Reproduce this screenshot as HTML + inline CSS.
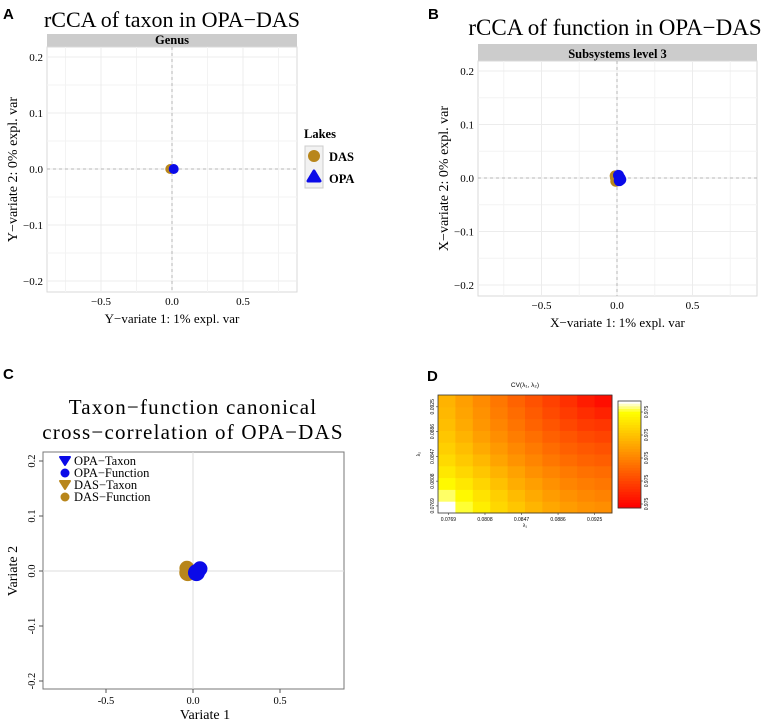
<!DOCTYPE html>
<html><head><meta charset="utf-8"><style>
body{margin:0;background:#fff;width:769px;height:723px;overflow:hidden}
svg{display:block;font-family:"Liberation Serif",serif}
.lbl{font-family:"Liberation Sans",sans-serif;font-weight:bold}
</style></head><body>
<svg id="fig" width="769" height="723" viewBox="0 0 769 723">
<text class="lbl" x="3" y="19" font-size="15">A</text>
<text class="lbl" x="428" y="19" font-size="15">B</text>
<text class="lbl" x="3" y="379" font-size="15">C</text>
<text class="lbl" x="427" y="381" font-size="15">D</text>
<g id="gA"></g>
<g id="gB"></g>
<g id="gC"></g>
<g id="gD"></g>
</svg>
<script>
// ---- data ----
const ticksXY = [-0.5, 0.0, 0.5];
const ticksY = [-0.2, -0.1, 0.0, 0.1, 0.2];
const aLakes = ["DAS", "OPA"];
const aX = [-0.012, 0.012];
const aY = [0.0, 0.0];
const bLakes = ["DAS", "DAS", "DAS", "OPA", "OPA", "OPA", "OPA"];
const bX = [-0.012, -0.008, -0.01, 0.01, 0.02, 0.015, 0.025];
const bY = [0.004, -0.006, 0.0, 0.005, 0.0, -0.005, -0.003];
const cSeries = ["DAS-Taxon", "DAS-Function", "OPA-Taxon", "OPA-Function"];
const cX = [-0.035, -0.03, 0.04, 0.02];
const cY = [0.005, -0.003, 0.004, -0.003];
const dXTicks = ["0.0769", "0.0808", "0.0847", "0.0886", "0.0925"];
const dYTicks = ["0.0769", "0.0808", "0.0847", "0.0886", "0.0925"];
const dCbTicks = ["0.975", "0.975", "0.975", "0.975", "0.975"];
// CV values (rows from bottom to top, columns left to right), relative 0..1
const dRow0 = [1.00, 0.92, 0.84, 0.76, 0.70, 0.64, 0.59, 0.55, 0.52, 0.50];
const dRow1 = [0.94, 0.88, 0.80, 0.73, 0.66, 0.60, 0.55, 0.51, 0.48, 0.46];
const dRow2 = [0.88, 0.82, 0.75, 0.68, 0.61, 0.56, 0.51, 0.47, 0.44, 0.42];
const dRow3 = [0.82, 0.76, 0.70, 0.63, 0.57, 0.51, 0.47, 0.43, 0.40, 0.38];
const dRow4 = [0.77, 0.71, 0.65, 0.58, 0.52, 0.47, 0.42, 0.38, 0.35, 0.33];
const dRow5 = [0.73, 0.67, 0.60, 0.54, 0.48, 0.43, 0.38, 0.34, 0.31, 0.29];
const dRow6 = [0.70, 0.63, 0.56, 0.50, 0.44, 0.39, 0.34, 0.30, 0.26, 0.24];
const dRow7 = [0.67, 0.60, 0.53, 0.47, 0.41, 0.35, 0.30, 0.25, 0.21, 0.19];
const dRow8 = [0.65, 0.58, 0.51, 0.44, 0.38, 0.32, 0.26, 0.21, 0.16, 0.12];
const dRow9 = [0.63, 0.56, 0.49, 0.42, 0.35, 0.29, 0.23, 0.17, 0.10, 0.05];
const dRows = [dRow0, dRow1, dRow2, dRow3, dRow4, dRow5, dRow6, dRow7, dRow8, dRow9];

const NS = "http://www.w3.org/2000/svg";
function mk(parent, tag, attrs, text) {
  const e = document.createElementNS(NS, tag);
  for (const k in attrs) e.setAttribute(k, attrs[k]);
  if (text !== undefined) e.textContent = text;
  parent.appendChild(e);
  return e;
}
const GOLD = "#b8861b", BLUE = "#0a0ae8";
function fmt(v) { return (v < 0 ? "\u2212" : "") + Math.abs(v).toFixed(1); }

function ggPanel(g, o) {
  const sx = v => o.cx + v * o.kx, sy = v => o.cy - v * o.ky;
  mk(g, "text", {x: o.titleX, y: o.titleY, "font-size": o.tfs, "text-anchor": "middle"}, o.title);
  const strip = mk(g, "rect", {x: o.x0, y: o.sy0, width: o.x1 - o.x0, height: o.y0 - o.sy0, fill: "#cccccc"});
  
  const st = mk(g, "text", {x: (o.x0 + o.x1) / 2, y: o.y0 - 3, "font-size": 12.5, "font-weight": "bold", "text-anchor": "middle"}, o.strip);
  
  const bg = mk(g, "rect", {x: o.x0, y: o.y0, width: o.x1 - o.x0, height: o.y1 - o.y0, fill: "#fff", stroke: "#d9d9d9", "stroke-width": 1});
  
  [-0.75, -0.25, 0.25, 0.75].forEach(v => mk(g, "line", {x1: sx(v), x2: sx(v), y1: o.y0, y2: o.y1, stroke: "#f3f3f3"}));
  [-0.15, -0.05, 0.05, 0.15].forEach(v => mk(g, "line", {y1: sy(v), y2: sy(v), x1: o.x0, x2: o.x1, stroke: "#f3f3f3"}));
  ticksXY.forEach(v => { mk(g, "line", {x1: sx(v), x2: sx(v), y1: o.y0, y2: o.y1, stroke: "#ececec"});
    const t = mk(g, "text", {x: sx(v), y: o.y1 + 13, "font-size": 11, "text-anchor": "middle"}, fmt(v));
     });
  ticksY.forEach(v => { mk(g, "line", {y1: sy(v), y2: sy(v), x1: o.x0, x2: o.x1, stroke: "#ececec"});
    const t = mk(g, "text", {x: o.x0 - 4, y: sy(v) + 4, "font-size": 11, "text-anchor": "end"}, fmt(v));
     });
  mk(g, "line", {x1: sx(0), x2: sx(0), y1: o.y0, y2: o.y1, stroke: "#b5b5b5", "stroke-dasharray": "3,3"});
  mk(g, "line", {y1: sy(0), y2: sy(0), x1: o.x0, x2: o.x1, stroke: "#b5b5b5", "stroke-dasharray": "3,3"});
  const xt = mk(g, "text", {x: (o.x0 + o.x1) / 2, y: o.y1 + 31, "font-size": 13, "text-anchor": "middle"}, o.xTitle);
  
  const yt = mk(g, "text", {x: 0, y: 0, "font-size": 14, "text-anchor": "middle", transform: `translate(${o.x0 - 30},${(o.y0 + o.y1) / 2}) rotate(-90)`}, o.yTitle);
  
  o.lakes.forEach((l, i) => {
    const c = mk(g, "circle", {cx: sx(o.xs[i]), cy: sy(o.ys[i]), r: o.r, fill: l === "DAS" ? GOLD : BLUE});
    
    
  });
}
ggPanel(document.getElementById("gA"), {title: "rCCA of taxon in OPA\u2212DAS", titleX: 172, titleY: 27, tfs: 22,
  strip: "Genus", x0: 47, x1: 297, sy0: 34, y0: 47, y1: 292, cx: 172, cy: 169, kx: 142, ky: 560,
  xTitle: "Y\u2212variate 1: 1% expl. var", yTitle: "Y\u2212variate 2: 0% expl. var", lakes: aLakes, xs: aX, ys: aY, r: 5});
ggPanel(document.getElementById("gB"), {title: "rCCA of function in OPA\u2212DAS", titleX: 615, titleY: 35, tfs: 23,
  strip: "Subsystems level 3", x0: 478, x1: 757, sy0: 44, y0: 61, y1: 296, cx: 617, cy: 178, kx: 151, ky: 535,
  xTitle: "X\u2212variate 1: 1% expl. var", yTitle: "X\u2212variate 2: 0% expl. var", lakes: bLakes, xs: bX, ys: bY, r: 5.5});

(function () {
  const g = document.getElementById("gA");
  mk(g, "text", {x: 304, y: 138, "font-size": 12.5, "font-weight": "bold"}, "Lakes");
  mk(g, "rect", {x: 305, y: 146, width: 18, height: 42, fill: "#f2f2f2", stroke: "#ccc"});
  const e1 = mk(g, "circle", {cx: 314, cy: 156, r: 6, fill: GOLD}); 
  const e2 = mk(g, "path", {d: "M314,171 L320,181 L308,181 Z", fill: BLUE, stroke: BLUE, "stroke-width": 3, "stroke-linejoin": "round"}); 
  mk(g, "text", {x: 329, y: 161, "font-size": 12.5, "font-weight": "bold"}, "DAS");
  mk(g, "text", {x: 329, y: 183, "font-size": 12.5, "font-weight": "bold"}, "OPA");
})();

(function () {
  const g = document.getElementById("gC");
  const x0 = 43, x1 = 344, y0 = 452, y1 = 689, cx = 193, cy = 571, kx = 174, ky = 550;
  const sx = v => cx + v * kx, sy = v => cy - v * ky;
  mk(g, "text", {x: 193, y: 414, "font-size": 21, "text-anchor": "middle", "letter-spacing": "1.2"}, "Taxon\u2212function canonical");
  mk(g, "text", {x: 193, y: 439, "font-size": 21, "text-anchor": "middle", "letter-spacing": "1.2"}, "cross\u2212correlation of OPA\u2212DAS");
  mk(g, "rect", {x: x0, y: y0, width: x1 - x0, height: y1 - y0, fill: "#fff", stroke: "#777"});
  mk(g, "line", {x1: sx(0), x2: sx(0), y1: y0, y2: y1, stroke: "#ddd"});
  mk(g, "line", {y1: sy(0), y2: sy(0), x1: x0, x2: x1, stroke: "#ddd"});
  ticksXY.forEach(v => { mk(g, "line", {x1: sx(v), x2: sx(v), y1: y1, y2: y1 + 4, stroke: "#555"});
    mk(g, "text", {x: sx(v), y: y1 + 15, "font-size": 10.5, "text-anchor": "middle"}, v.toFixed(1)); });
  ticksY.forEach(v => { mk(g, "line", {y1: sy(v), y2: sy(v), x1: x0 - 4, x2: x0, stroke: "#555"});
    mk(g, "text", {x: 0, y: 0, "font-size": 10.5, "text-anchor": "middle", transform: `translate(${x0 - 8},${sy(v)}) rotate(-90)`}, v.toFixed(1)); });
  mk(g, "text", {x: 205, y: 719, "font-size": 14, "text-anchor": "middle"}, "Variate 1");
  mk(g, "text", {x: 0, y: 0, "font-size": 14, "text-anchor": "middle", transform: `translate(17,${cy}) rotate(-90)`}, "Variate 2");
  cSeries.forEach((s, i) => {
    const c = mk(g, "circle", {cx: sx(cX[i]), cy: sy(cY[i]), r: s.indexOf("Taxon") >= 0 ? 7.5 : 8.5, fill: s.startsWith("DAS") ? GOLD : BLUE});
    
  });
  const leg = [["OPA\u2212Taxon", BLUE, 1], ["OPA\u2212Function", BLUE, 0], ["DAS\u2212Taxon", GOLD, 1], ["DAS\u2212Function", GOLD, 0]];
  leg.forEach((l, i) => {
    const y = 461 + i * 12;
    if (l[2]) mk(g, "path", {d: `M60,${y - 4} L70,${y - 4} L65,${y + 4} Z`, fill: l[1], stroke: l[1], "stroke-width": 2, "stroke-linejoin": "round"});
    else mk(g, "circle", {cx: 65, cy: y, r: 4.5, fill: l[1]});
    mk(g, "text", {x: 74, y: y + 4, "font-size": 12.5}, l[0]);
  });
})();

function heat(t) {
  let r = 255, gg, b;
  if (t < 0.9) { gg = Math.round(255 * t / 0.9); b = 0; }
  else { gg = 255; b = Math.round(255 * (t - 0.9) / 0.1); }
  return `rgb(${r},${gg},${b})`;
}
(function () {
  const g = document.getElementById("gD");
  const x0 = 438, x1 = 612, y0 = 395, y1 = 513;
  const nc = dRows[0].length, nr = dRows.length;
  const cw = (x1 - x0) / nc, ch = (y1 - y0) / nr;
  mk(g, "text", {x: 525, y: 387, "font-size": 6.5, "font-family": "Liberation Sans,sans-serif", "text-anchor": "middle"}, "CV(\u03bb\u2081, \u03bb\u2082)");
  dRows.forEach((row, ri) => row.forEach((v, ci) => {
    const r = mk(g, "rect", {x: x0 + ci * cw, y: y1 - (ri + 1) * ch, width: cw + 0.5, height: ch + 0.5, fill: heat(v)});
    
  }));
  mk(g, "rect", {x: x0, y: y0, width: x1 - x0, height: y1 - y0, fill: "none", stroke: "#333", "stroke-width": 0.8});
  dXTicks.forEach((t, i) => {
    const x = x0 + cw * (0.6 + i * 2.1);
    mk(g, "line", {x1: x, x2: x, y1: y1, y2: y1 + 2, stroke: "#333", "stroke-width": 0.6});
    mk(g, "text", {x: x, y: y1 + 8, "font-size": 5, "font-family": "Liberation Sans,sans-serif", "text-anchor": "middle"}, t);
  });
  mk(g, "text", {x: 525, y: 527, "font-size": 5, "font-family": "Liberation Sans,sans-serif", "text-anchor": "middle"}, "\u03bb\u2081");
  dYTicks.forEach((t, i) => {
    const y = y1 - ch * (0.6 + i * 2.1);
    mk(g, "line", {x1: x0 - 2, x2: x0, y1: y, y2: y, stroke: "#333", "stroke-width": 0.6});
    mk(g, "text", {x: 0, y: 0, "font-size": 5, "font-family": "Liberation Sans,sans-serif", "text-anchor": "middle", transform: `translate(${x0 - 4},${y}) rotate(-90)`}, t);
  });
  mk(g, "text", {x: 0, y: 0, "font-size": 5, "font-family": "Liberation Sans,sans-serif", "text-anchor": "middle", transform: `translate(420,${(y0 + y1) / 2}) rotate(-90)`}, "\u03bb\u2082");
  const cbx = 618, cby0 = 401, cby1 = 508, n = 40;
  for (let i = 0; i < n; i++) {
    mk(g, "rect", {x: cbx, y: cby0 + (cby1 - cby0) * i / n, width: 23, height: (cby1 - cby0) / n + 0.5, fill: heat(1 - i / (n - 1))});
  }
  mk(g, "rect", {x: cbx, y: cby0, width: 23, height: cby1 - cby0, fill: "none", stroke: "#333", "stroke-width": 0.8});
  dCbTicks.forEach((t, i) => {
    const y = cby1 - 4 - i * 23;
    mk(g, "line", {x1: cbx + 23, x2: cbx + 25, y1: y, y2: y, stroke: "#333", "stroke-width": 0.6});
    mk(g, "text", {x: 0, y: 0, "font-size": 5, "font-family": "Liberation Sans,sans-serif", "text-anchor": "middle", transform: `translate(${cbx + 30},${y}) rotate(-90)`}, t);
  });
})();
</script>
</body></html>
